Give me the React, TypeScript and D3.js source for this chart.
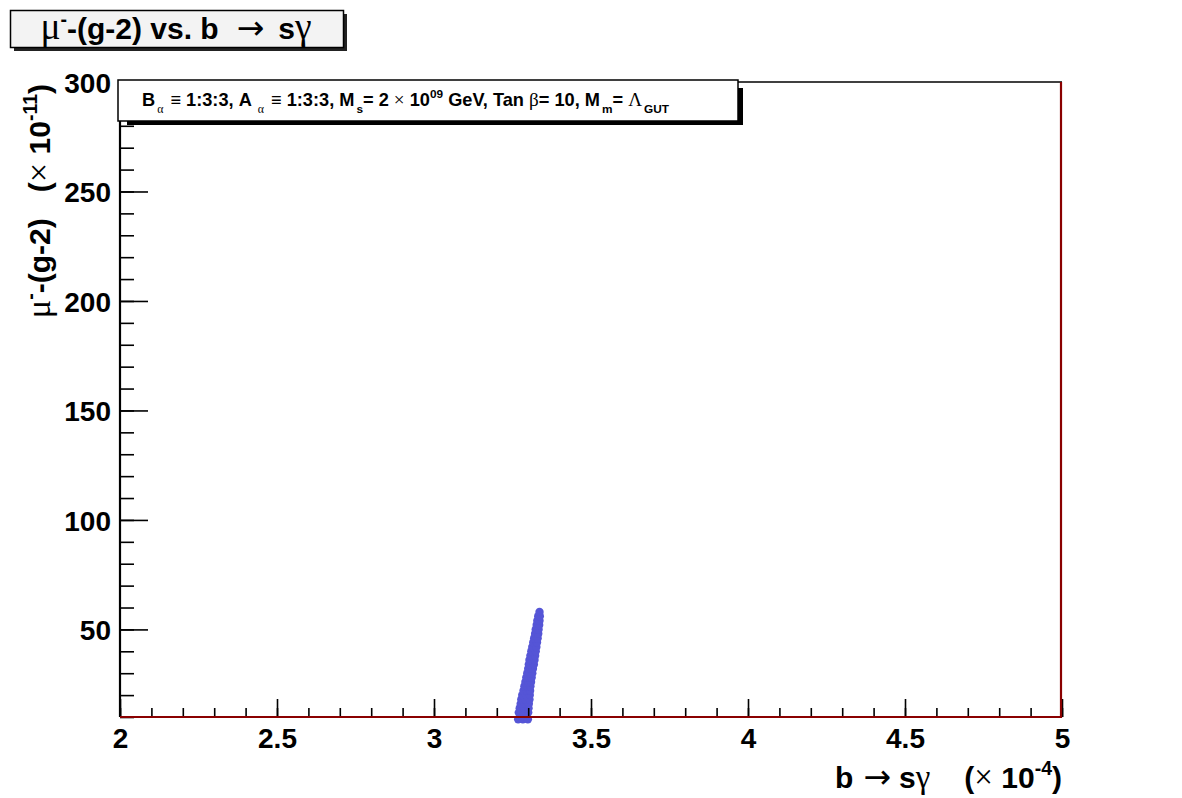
import React, { useEffect, useRef } from 'react';
import * as d3 from 'd3';

// b -> s gamma (x 1e-4) and muon g-2 (x 1e-11)
const bsgValues = [
  3.268, 3.283, 3.299, 3.270, 3.285, 3.300, 3.273, 3.287, 3.301,
  3.276, 3.289, 3.302, 3.278, 3.291, 3.304, 3.281, 3.293, 3.305,
  3.285, 3.296, 3.306, 3.288, 3.298, 3.307, 3.291, 3.300, 3.309,
  3.294, 3.303, 3.311, 3.297, 3.305, 3.313, 3.300, 3.308, 3.315,
  3.302, 3.318, 3.304, 3.320, 3.307, 3.322, 3.310, 3.324,
  3.313, 3.326, 3.316, 3.328, 3.319, 3.330, 3.322, 3.332,
  3.324, 3.333, 3.327, 3.335, 3.329, 3.336, 3.332, 3.337, 3.336,
];
const gm2Values = [
  9, 9, 9, 12, 12, 12, 14, 14, 14,
  16, 16, 16, 18, 18, 18, 20, 20, 20,
  22, 22, 22, 24, 24, 24, 26, 26, 26,
  28, 28, 28, 30, 30, 30, 32, 32, 32,
  34, 34, 36, 36, 38, 38, 40, 40,
  42, 42, 44, 44, 46, 46, 48, 48,
  50, 50, 52, 52, 54, 54, 56, 56, 58,
];

const xMajorTicks = [2, 2.5, 3, 3.5, 4, 4.5, 5];
const yMajorTicks = [50, 100, 150, 200, 250, 300];

type Seg = { t: string; sup?: boolean; sub?: boolean; greek?: boolean; arrow?: boolean; dx?: number };

const titleSegs: Seg[] = [
  { t: 'μ', greek: true }, { t: '-', sup: true }, { t: '-(g-2) vs. b' },
  { t: '→', arrow: true, dx: 18 }, { t: 's', dx: 14 }, { t: 'γ', greek: true },
];
const yTitleSegs: Seg[] = [
  { t: 'μ', greek: true }, { t: '-', sup: true }, { t: '-(g-2)' },
  { t: '(', dx: 26 }, { t: '×', greek: true }, { t: ' 10' }, { t: '-11', sup: true }, { t: ')' },
];
const xTitleSegs: Seg[] = [
  { t: 'b' }, { t: '→', arrow: true, dx: 10 }, { t: 's', dx: 8 }, { t: 'γ', greek: true },
  { t: '(', dx: 34 }, { t: '×', greek: true }, { t: ' 10' },
  { t: '-4', sup: true }, { t: ')' },
];
const legendSegs: Seg[] = [
  { t: 'B' }, { t: 'α', sub: true, greek: true }, { t: ' ≡ 1:3:3, A', dx: 2 },
  { t: 'α', sub: true, greek: true, dx: 6 }, { t: ' ≡ 1:3:3, M', dx: 2 }, { t: 's', sub: true },
  { t: '= 2 ' }, { t: '×', greek: true }, { t: ' 10' }, { t: '09', sup: true },
  { t: ' GeV, Tan ' }, { t: 'β', greek: true }, { t: '= 10, M' }, { t: 'm', sub: true, dx: 2 },
  { t: '= ' }, { t: 'Λ', greek: true }, { t: 'GUT', sub: true },
];

const FONT = '"Liberation Sans", Arial, Helvetica, sans-serif';
const GREEK = '"Liberation Serif", "DejaVu Serif", serif';
const ARROW = '"DejaVu Sans", sans-serif';

function richText(
  sel: d3.Selection<SVGTextElement, unknown, null, undefined>,
  segs: Seg[],
  size: number,
  greekScale = 1.05,
) {
  let shift = 0;
  segs.forEach((s) => {
    const small = s.sup || s.sub;
    const target = s.sup ? -0.45 * size : s.sub ? 0.38 * size : 0;
    const ts = sel.append('tspan')
      .attr('dy', target - shift)
      .attr('font-size', small ? size * 0.65 : s.arrow ? size * 1.1 : s.greek ? size * greekScale : size)
      .attr('font-family', s.arrow ? ARROW : s.greek ? GREEK : FONT)
      .attr('font-weight', s.greek || s.arrow ? 'normal' : 'bold')
      .attr('fill', '#000')
      .text(s.t);
    if (s.dx) ts.attr('dx', s.dx);
    else if (s.sub) ts.attr('dx', 2);
    shift = target;
  });
}

const App = () => {
  const ref = useRef<SVGSVGElement>(null);

  useEffect(() => {
    const width = 1182;
    const height = 798;
    const margin = { left: 120, right: 120, top: 82, bottom: 81 };

    const svg = d3.select(ref.current);
    svg.selectAll('*').remove();

    const x = d3.scaleLinear().domain([2, 5]).range([margin.left, width - margin.right]);
    const y = d3.scaleLinear().domain([10, 300]).range([height - margin.bottom, margin.top]);

    svg.append('rect').attr('width', width).attr('height', height).attr('fill', '#fff');

    // top frame line
    svg.append('line')
      .attr('x1', x(2)).attr('x2', x(5)).attr('y1', y(300)).attr('y2', y(300))
      .attr('stroke', '#000').attr('stroke-width', 1.5);

    // data points
    svg.append('g')
      .selectAll('circle')
      .data(bsgValues.map((v, i) => [v, gm2Values[i]]))
      .enter()
      .append('circle')
      .attr('cx', (d) => x(d[0]))
      .attr('cy', (d) => y(d[1]))
      .attr('r', 4.2)
      .attr('fill', '#5555d6');

    // x axis: minor and major ticks pointing up into the frame
    const xMinor = svg.append('g').attr('transform', `translate(0,${y(10)})`)
      .call(d3.axisBottom(x).tickValues(d3.range(20, 51).map((v) => v / 10))
        .tickSizeInner(-9).tickSizeOuter(0).tickFormat(() => ''));
    xMinor.select('.domain').remove();
    const xMajor = svg.append('g').attr('transform', `translate(0,${y(10)})`)
      .call(d3.axisBottom(x).tickValues(xMajorTicks)
        .tickSizeInner(-18).tickSizeOuter(0).tickPadding(31).tickFormat(d3.format('')));
    xMajor.select('.domain').remove();
    xMajor.selectAll('.tick text')
      .attr('fill', '#000').attr('dy', 0)
      .attr('font-family', FONT).attr('font-weight', 'bold').attr('font-size', 28);

    // y axis: minor and major ticks pointing right into the frame
    const yMinor = svg.append('g').attr('transform', `translate(${x(2)},0)`)
      .call(d3.axisLeft(y).tickValues(d3.range(10, 301, 10))
        .tickSizeInner(-14).tickSizeOuter(0).tickFormat(() => ''));
    yMinor.select('.domain').remove();
    const yMajor = svg.append('g').attr('transform', `translate(${x(2)},0)`)
      .call(d3.axisLeft(y).tickValues(yMajorTicks)
        .tickSizeInner(-28).tickSizeOuter(0).tickPadding(9).tickFormat(d3.format('')));
    yMajor.select('.domain').remove();
    yMajor.selectAll('.tick text')
      .attr('fill', '#000').attr('dy', '0.36em')
      .attr('font-family', FONT).attr('font-weight', 'bold').attr('font-size', 28);
    svg.selectAll('.tick line').attr('stroke', '#000').attr('stroke-width', 1.6);

    svg.append('line')
      .attr('x1', x(2)).attr('x2', x(2)).attr('y1', y(10)).attr('y2', y(300) - 1)
      .attr('stroke', '#000').attr('stroke-width', 2.2);

    // empty histogram outline along bottom and right edge
    svg.append('path')
      .attr('d', d3.line()([[x(2), y(10)], [x(5) - 1, y(10)], [x(5) - 1, y(300)]]))
      .attr('fill', 'none').attr('stroke', '#8a0000').attr('stroke-width', 2.2);

    // axis titles
    richText(
      svg.append('text')
        .attr('x', x(5)).attr('y', 788)
        .attr('text-anchor', 'end'),
      xTitleSegs, 30, 1.1,
    );
    richText(
      svg.append('text')
        .attr('transform', `translate(50,${y(300) + 2}) rotate(-90)`)
        .attr('text-anchor', 'end'),
      yTitleSegs, 30, 1.15,
    );

    // title box
    svg.append('rect').attr('x', 14).attr('y', 14).attr('width', 333).attr('height', 37).attr('fill', '#222');
    svg.append('rect').attr('x', 10.5).attr('y', 10.5).attr('width', 333).attr('height', 37)
      .attr('fill', '#f3f3f3').attr('stroke', '#000').attr('stroke-width', 1.5);
    richText(
      svg.append('text').attr('x', 176).attr('y', 39).attr('text-anchor', 'middle'),
      titleSegs, 30, 1.25,
    );

    // legend box
    svg.append('rect').attr('x', 127).attr('y', 88).attr('width', 616).attr('height', 37).attr('fill', '#000');
    svg.append('rect').attr('x', 118).attr('y', 80).attr('width', 620).attr('height', 41)
      .attr('fill', '#fff').attr('stroke', '#000').attr('stroke-width', 1.5);
    richText(
      svg.append('text').attr('x', 142).attr('y', 106),
      legendSegs, 18.2,
    );
  }, []);

  return (
    <svg ref={ref} width={1182} height={798} style={{ position: 'absolute', left: 0, top: 0 }} />
  );
};

export default App;
